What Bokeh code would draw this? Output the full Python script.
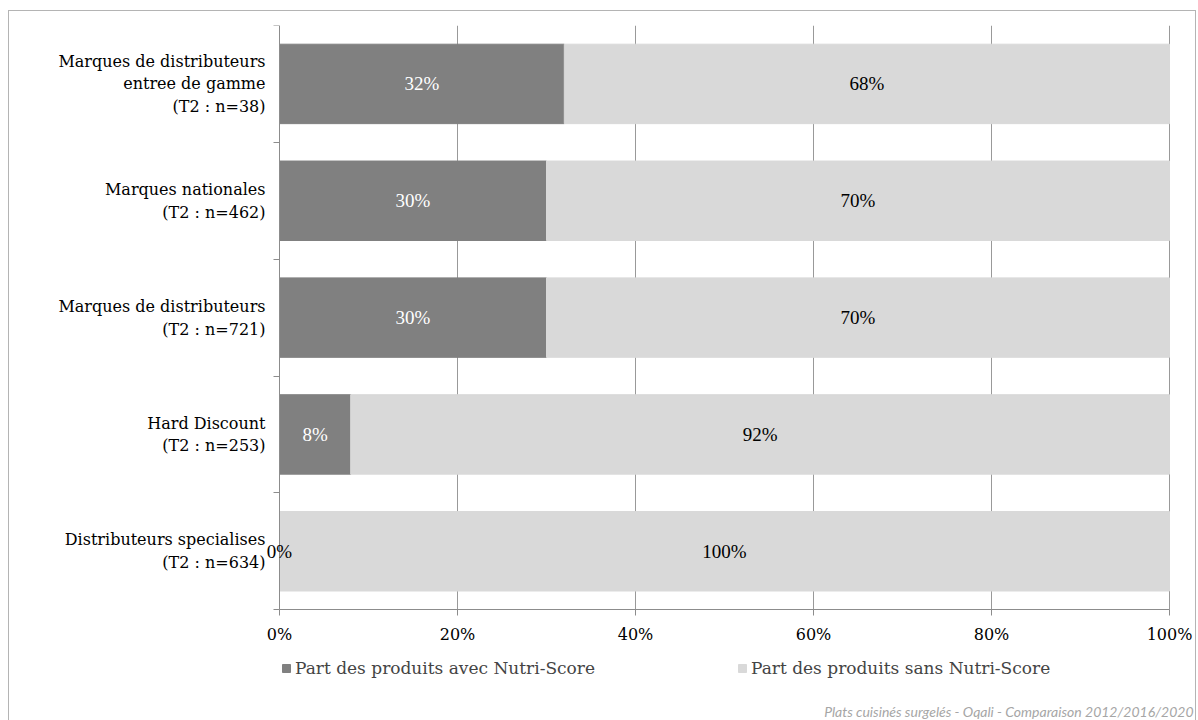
from bokeh.plotting import figure
from bokeh.models import (ColumnDataSource, FixedTicker, LabelSet, Legend, LegendItem, Title)
from bokeh.embed import file_html
from bokeh.resources import INLINE

# ---- data ----
categories = [
    "Marques de distributeurs\nentree de gamme\n(T2 : n=38)",
    "Marques nationales\n(T2 : n=462)",
    "Marques de distributeurs\n(T2 : n=721)",
    "Hard Discount\n(T2 : n=253)",
    "Distributeurs specialises\n(T2 : n=634)",
]
avec_nutriscore = [32, 30, 30, 8, 0]
sans_nutriscore = [68, 70, 70, 92, 100]
x_ticks = [0, 20, 40, 60, 80, 100]
series_names = ["Part des produits avec Nutri-Score", "Part des produits sans Nutri-Score"]
source_note = "Plats cuisinés surgelés - Oqali - Comparaison 2012/2016/2020"

DARK = "#808080"
LIGHT = "#d9d9d9"
AXIS = "#8c8c8c"
FONT = "DejaVu Serif"

n = len(categories)
ypos = [n - 0.5 - i for i in range(n)]

src = ColumnDataSource(dict(
    y=ypos,
    avec=[v / 100 for v in avec_nutriscore],
    sans_left=[v / 100 for v in avec_nutriscore],
    sans_right=[(a + s) / 100 for a, s in zip(avec_nutriscore, sans_nutriscore)],
))

# the frame covers the whole figure; axes are pinned at x = 0 and y = 0
p = figure(width=1188, height=710, output_backend="svg", toolbar_location=None,
           x_range=(-270 / 890, 1 + 28 / 890), y_range=(-0.76, n),
           min_border_left=0, min_border_right=0, min_border_top=14, min_border_bottom=0)
p.styles = {"border": "1px solid #b4b4b4", "border-bottom": "none",
            "margin-left": "8px", "margin-top": "10px"}
p.outline_line_color = None
p.xgrid.grid_line_color = None
p.ygrid.grid_line_color = None

# vertical grid lines (20%..100%) limited to the bar area
grid_x = [v / 100 for v in x_ticks[1:]]
p.segment(x0=grid_x, x1=grid_x, y0=[0] * len(grid_x), y1=[n] * len(grid_x),
          line_color="#999999", line_width=1)

r1 = p.hbar(y="y", left=0, right="avec", height=0.68, color=DARK, source=src)
r2 = p.hbar(y="y", left="sans_left", right="sans_right", height=0.68, color=LIGHT, source=src)

# value labels
lab_src = ColumnDataSource(dict(
    x=[v / 200 for v in avec_nutriscore] + [(2 * a + s) / 200 for a, s in zip(avec_nutriscore, sans_nutriscore)],
    y=ypos + ypos,
    t=[f"{v}%" for v in avec_nutriscore] + [f"{v}%" for v in sans_nutriscore],
    c=["white" if v > 0 else "black" for v in avec_nutriscore] + ["black"] * n,
))
labels = LabelSet(x="x", y="y", text="t", text_color="c", source=lab_src,
                  text_align="center", text_baseline="middle",
                  text_font=FONT, text_font_size="19px")
p.add_layout(labels)

# x axis, pinned at y = 0
p.xaxis.fixed_location = 0
p.xaxis.bounds = (0, 1)
p.xaxis.ticker = FixedTicker(ticks=[v / 100 for v in x_ticks])
p.xaxis.major_label_overrides = {v / 100: f"{v}%" for v in x_ticks}
p.xaxis.axis_line_color = AXIS
p.xaxis.major_tick_line_color = AXIS
p.xaxis.major_tick_in = 0
p.xaxis.major_tick_out = 6
p.xaxis.minor_tick_line_color = None
p.xaxis.major_label_text_font = FONT
p.xaxis.major_label_text_font_size = "16px"
p.xaxis.major_label_text_color = "black"
p.xaxis.major_label_standoff = 9

# y axis, pinned at x = 0
p.yaxis.fixed_location = 0
p.yaxis.bounds = (0, n)
p.yaxis.ticker = FixedTicker(ticks=ypos, minor_ticks=list(range(n + 1)))
p.yaxis.major_label_overrides = {y: c for y, c in zip(ypos, categories)}
p.yaxis.axis_line_color = AXIS
p.yaxis.major_tick_line_color = None
p.yaxis.major_tick_in = 0
p.yaxis.major_tick_out = 0
p.yaxis.minor_tick_line_color = AXIS
p.yaxis.minor_tick_in = 0
p.yaxis.minor_tick_out = 6
p.yaxis.major_label_text_font = FONT
p.yaxis.major_label_text_font_size = "16px"
p.yaxis.major_label_text_color = "black"
p.yaxis.major_label_standoff = 8

legend = Legend(items=[LegendItem(label=series_names[0], renderers=[r1]),
                       LegendItem(label=series_names[1], renderers=[r2])],
                orientation="horizontal", location=(272, 20),
                label_text_font=FONT, label_text_font_size="17px",
                glyph_width=10, glyph_height=10, spacing=142,
                border_line_color=None, background_fill_alpha=0,
                padding=0, margin=0, label_standoff=4)
p.add_layout(legend)

note = Title(text=source_note, align="right", text_font="Lato", text_font_style="italic",
             text_color="#a6a6a6", text_font_size="14px", standoff=4, offset=4)
p.add_layout(note, "below")

open("out.html", "w").write(file_html(p, INLINE))
